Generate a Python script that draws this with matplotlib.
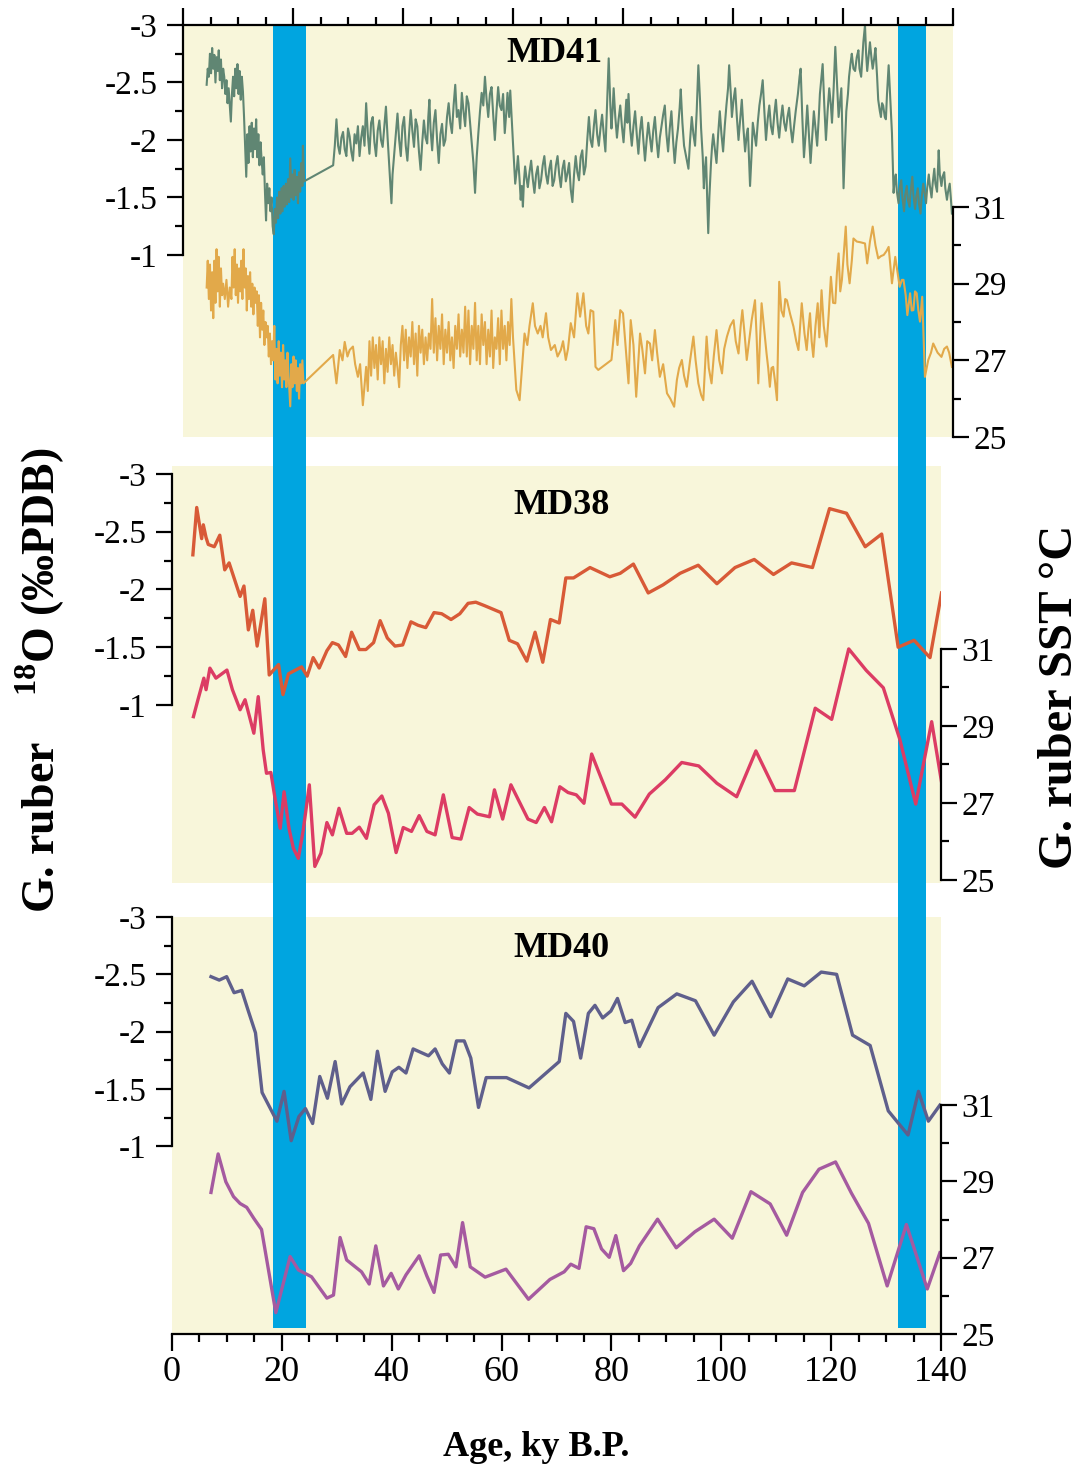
import numpy as np
import matplotlib
matplotlib.use('Agg')
import matplotlib.pyplot as plt
from matplotlib.patches import Rectangle
from matplotlib.ticker import FixedLocator, FixedFormatter

plt.rcParams['font.family'] = ['Liberation Serif', 'DejaVu Serif']
plt.rcParams['axes.unicode_minus'] = False
plt.rcParams['mathtext.fontset'] = 'custom'
plt.rcParams['mathtext.rm'] = 'Liberation Serif'
plt.rcParams['mathtext.bf'] = 'Liberation Serif:bold'

# shaded intervals (ky B.P.)
band_start = [18.4, 132.2]
band_end = [24.4, 137.2]

# MD41 G. ruber d18O (age, permil)
md41_d18o = [
    (4.3, -2.48), (4.5, -2.62), (4.7, -2.55), (4.9, -2.75), (5.1, -2.58), (5.3, -2.80), (5.5, -2.62),
    (5.7, -2.74), (5.9, -2.50), (6.1, -2.72), (6.3, -2.60), (6.5, -2.78), (6.7, -2.52), (6.9, -2.70),
    (7.1, -2.45), (7.3, -2.62), (7.5, -2.55), (7.7, -2.40), (7.9, -2.52), (8.1, -2.32), (8.3, -2.45),
    (8.5, -2.30), (8.7, -2.16), (8.9, -2.40), (9.1, -2.55), (9.3, -2.38), (9.5, -2.62), (9.7, -2.45),
    (9.9, -2.66), (10.1, -2.40), (10.3, -2.60), (10.5, -2.35), (10.7, -2.55), (10.9, -2.42), (11.1, -2.20),
    (11.3, -1.95), (11.5, -1.68), (11.7, -2.05), (11.9, -1.80), (12.1, -2.12), (12.3, -1.90), (12.5, -2.15),
    (12.7, -1.85), (12.9, -2.10), (13.1, -1.92), (13.3, -2.18), (13.5, -1.85), (13.7, -2.05), (13.9, -1.78),
    (14.1, -1.98), (14.3, -1.82), (14.5, -1.70), (14.7, -1.85), (14.9, -1.55), (15.1, -1.30), (15.3, -1.62),
    (15.5, -1.45), (15.7, -1.58), (15.9, -1.38), (16.1, -1.50), (16.3, -1.25), (16.5, -1.18),
    (16.7, -1.40), (16.9, -1.28), (17.1, -1.50), (17.3, -1.32), (17.5, -1.55), (17.7, -1.36), (17.9, -1.58),
    (18.1, -1.38), (18.3, -1.60), (18.5, -1.42), (18.7, -1.62), (18.9, -1.44), (19.1, -1.66), (19.3, -1.46),
    (19.5, -1.84), (19.7, -1.50), (19.9, -1.70), (20.1, -1.48), (20.3, -1.74), (20.5, -1.52), (20.7, -1.68),
    (20.9, -1.45), (21.1, -1.72), (21.3, -1.55), (21.5, -1.80), (21.7, -1.60), (21.8, -1.95), (22.0, -1.64),
    (27.3, -1.78), (27.6, -1.95), (27.9, -2.18), (28.2, -1.95), (28.5, -1.88), (28.8, -2.02), (29.1, -2.07),
    (29.4, -1.92), (29.7, -1.86), (30.0, -2.10), (30.3, -2.03), (30.6, -1.90), (30.9, -1.82), (31.2, -2.05),
    (31.5, -1.97), (31.8, -2.12), (32.1, -1.86), (32.4, -2.02), (32.7, -2.12), (33.0, -1.95), (33.3, -2.32),
    (33.6, -2.05), (33.9, -1.88), (34.2, -2.15), (34.5, -2.20), (34.8, -1.98), (35.1, -1.86), (35.4, -2.08),
    (35.7, -2.17), (36.0, -2.00), (36.3, -1.94), (36.6, -2.12), (36.9, -2.29), (37.2, -2.02), (37.5, -1.77),
    (37.7, -1.60), (37.9, -1.45), (38.1, -1.70), (38.4, -1.88), (38.7, -2.05), (39.0, -2.23), (39.3, -2.00),
    (39.6, -1.86), (39.9, -2.12), (40.2, -2.20), (40.5, -1.95), (40.8, -1.82), (41.1, -2.05), (41.4, -2.26),
    (41.7, -2.08), (42.0, -1.94), (42.3, -2.18), (42.6, -2.12), (42.9, -1.90), (43.2, -1.74), (43.5, -1.98),
    (43.8, -2.17), (44.1, -2.02), (44.4, -1.97), (44.6, -2.20), (44.8, -2.35), (45.0, -2.10), (45.3, -1.91),
    (45.6, -2.15), (45.9, -2.26), (46.2, -2.00), (46.5, -1.80), (46.8, -2.05), (47.1, -2.14), (47.4, -1.95),
    (47.7, -2.00), (48.0, -2.20), (48.3, -2.32), (48.6, -2.15), (48.9, -2.06), (49.2, -2.30), (49.5, -2.48),
    (49.8, -2.20), (50.1, -2.26), (50.4, -2.10), (50.7, -2.41), (51.0, -2.25), (51.3, -2.12), (51.6, -2.38),
    (51.9, -2.32), (52.2, -2.15), (52.5, -1.97), (52.8, -1.80), (53.1, -1.54), (53.4, -1.85), (53.7, -2.06),
    (54.0, -2.25), (54.3, -2.41), (54.6, -2.30), (54.9, -2.55), (55.2, -2.35), (55.5, -2.20), (55.8, -2.40),
    (56.1, -2.46), (56.4, -2.22), (56.7, -2.00), (57.0, -2.25), (57.3, -2.46), (57.6, -2.30), (57.9, -2.26),
    (58.2, -2.40), (58.5, -2.06), (58.8, -2.25), (59.0, -2.41), (59.3, -2.20), (59.5, -2.43), (59.8, -2.15),
    (60.0, -1.97), (60.2, -1.80), (60.4, -1.62), (60.7, -1.75), (60.9, -1.86), (61.2, -1.65), (61.4, -1.48),
    (61.6, -1.60), (61.8, -1.42), (62.0, -1.65), (62.2, -1.77), (62.5, -1.65), (62.7, -1.59), (63.0, -1.72),
    (63.3, -1.82), (63.6, -1.66), (63.9, -1.54), (64.2, -1.70), (64.5, -1.77), (64.8, -1.58), (65.1, -1.65),
    (65.4, -1.78), (65.7, -1.86), (66.0, -1.70), (66.3, -1.62), (66.6, -1.75), (66.9, -1.82), (67.2, -1.60),
    (67.5, -1.65), (67.8, -1.78), (68.1, -1.86), (68.4, -1.70), (68.7, -1.59), (69.0, -1.75), (69.3, -1.82),
    (69.6, -1.64), (69.9, -1.71), (70.2, -1.80), (70.5, -1.57), (70.8, -1.46), (71.1, -1.70), (71.4, -1.86),
    (71.7, -1.72), (72.0, -1.65), (72.3, -1.85), (72.6, -1.91), (72.9, -1.70), (73.2, -1.77), (73.5, -2.00),
    (73.8, -2.20), (74.1, -2.00), (74.4, -1.94), (74.7, -2.12), (75.0, -2.26),
    (75.3, -2.05), (75.6, -1.95), (75.9, -2.10), (76.2, -2.22), (76.5, -2.05), (76.8, -1.90), (77.1, -2.30),
    (77.4, -2.71), (77.7, -2.30), (77.9, -2.10), (78.1, -2.25), (78.3, -2.45), (78.6, -2.20), (78.9, -2.02),
    (79.2, -2.18), (79.5, -2.30), (79.8, -2.12), (80.1, -1.98), (80.4, -2.20), (80.6, -2.35), (80.8, -2.15),
    (81.0, -2.40), (81.3, -2.10), (81.6, -1.95), (81.9, -2.12), (82.2, -2.25), (82.5, -2.05), (82.8, -1.88),
    (83.1, -2.08), (83.4, -2.20), (83.7, -2.00), (84.0, -1.82), (84.3, -2.00), (84.6, -2.15), (84.9, -2.02),
    (85.2, -1.90), (85.5, -2.08), (85.8, -2.20), (86.1, -2.00), (86.4, -1.85), (86.7, -2.02), (87.0, -2.12),
    (87.3, -2.22), (87.6, -2.30), (87.9, -2.05), (88.2, -1.90), (88.5, -2.10), (88.8, -2.25), (89.1, -2.00),
    (89.4, -1.80), (89.7, -1.98), (90.0, -2.10), (90.3, -2.28), (90.5, -2.44), (90.8, -2.15), (91.1, -1.95),
    (91.5, -1.85), (91.9, -1.75), (92.2, -2.00), (92.5, -2.20), (92.8, -2.05), (93.1, -1.95), (93.4, -2.25),
    (93.7, -2.65), (94.0, -2.35), (94.2, -2.10), (94.5, -1.85), (94.7, -1.58), (94.9, -1.75), (95.1, -1.85),
    (95.3, -1.50), (95.5, -1.19), (95.7, -1.50), (96.0, -1.80), (96.2, -1.95), (96.4, -2.05), (96.7, -1.92),
    (97.0, -1.80), (97.3, -2.05), (97.6, -2.25), (97.9, -2.05), (98.2, -1.90), (98.5, -2.12), (98.8, -2.30),
    (99.1, -2.45), (99.3, -2.65), (99.6, -2.40), (99.8, -2.20), (100.1, -2.35), (100.4, -2.45), (100.7, -2.20),
    (101.0, -2.00), (101.3, -2.18), (101.6, -2.35), (101.9, -2.10), (102.2, -1.90), (102.5, -2.05), (102.7, -2.10),
    (102.9, -1.85), (103.1, -1.60), (103.4, -1.90), (103.6, -2.15), (103.9, -2.05), (104.2, -1.95), (104.5, -2.15),
    (104.8, -2.30), (105.1, -2.40), (105.4, -2.52), (105.7, -2.25), (106.0, -2.00), (106.3, -2.18), (106.6, -2.30),
    (106.9, -2.12), (107.2, -2.05), (107.5, -2.22), (107.8, -2.35), (108.1, -2.15), (108.4, -2.02), (108.7, -2.18),
    (109.0, -2.30), (109.3, -2.15), (109.6, -2.08), (109.9, -2.20), (110.2, -2.28), (110.5, -2.10), (110.8, -1.98),
    (111.1, -2.12), (111.4, -2.25), (111.8, -2.40), (112.1, -2.55), (112.3, -2.62), (112.6, -2.20), (112.9, -1.85),
    (113.2, -2.05), (113.5, -2.30), (113.8, -2.05), (114.1, -1.80), (114.4, -2.02), (114.7, -2.25), (115.0, -2.10),
    (115.3, -1.95), (115.6, -2.20), (115.8, -2.40), (116.1, -2.55), (116.3, -2.66), (116.6, -2.30), (116.9, -2.00),
    (117.2, -2.25), (117.5, -2.45), (117.8, -2.30), (118.0, -2.15), (118.3, -2.45), (118.6, -2.81), (118.9, -2.50),
    (119.2, -2.20), (119.5, -2.35), (119.7, -2.45), (119.9, -2.00), (120.1, -1.58), (120.4, -2.00), (120.6, -2.25),
    (120.9, -2.40), (121.1, -2.55), (121.4, -2.68), (121.6, -2.75), (121.9, -2.62), (122.2, -2.60), (122.5, -2.72),
    (122.8, -2.78), (123.0, -2.62), (123.3, -2.55), (123.5, -2.70), (123.7, -2.85), (124.0, -3.00), (124.2, -2.75),
    (124.4, -2.60), (124.7, -2.75), (124.9, -2.85), (125.2, -2.70), (125.4, -2.62), (125.7, -2.72), (125.9, -2.80),
    (126.2, -2.55), (126.4, -2.35), (126.7, -2.25), (126.9, -2.20), (127.1, -2.32), (127.3, -2.30), (127.6, -2.20),
    (127.8, -2.18), (128.0, -2.40), (128.3, -2.65), (128.6, -2.35), (128.9, -2.06), (129.2, -1.54), (129.4, -1.65),
    (129.6, -1.70), (129.8, -1.55), (130.1, -1.45), (130.3, -1.58), (130.6, -1.65), (130.8, -1.50), (131.1, -1.38),
    (131.3, -1.52), (131.6, -1.60), (131.8, -1.48), (132.1, -1.42), (132.3, -1.55), (132.6, -1.68), (132.8, -1.52),
    (133.1, -1.40), (133.3, -1.50), (133.6, -1.58), (133.8, -1.45), (134.1, -1.36), (134.3, -1.50), (134.6, -1.62),
    (134.8, -1.55), (135.1, -1.45), (135.3, -1.58), (135.6, -1.70), (135.8, -1.60), (136.1, -1.50), (136.3, -1.62),
    (136.6, -1.75), (136.8, -1.62), (137.1, -1.55), (137.4, -1.91), (137.6, -1.70), (137.9, -1.60), (138.1, -1.68),
    (138.4, -1.72), (138.6, -1.58), (138.9, -1.48), (139.1, -1.55), (139.4, -1.62), (139.6, -1.50), (139.8, -1.36),
]

# MD41 G. ruber SST (age, degC)
md41_sst = [
    (4.3, 28.9), (4.5, 29.6), (4.7, 28.6), (4.9, 29.5), (5.1, 28.3), (5.3, 29.3), (5.5, 28.1), (5.7, 29.6),
    (5.9, 28.5), (6.1, 29.9), (6.3, 28.8), (6.5, 29.7), (6.7, 28.4), (6.9, 29.4), (7.1, 28.7), (7.3, 29.0),
    (7.6, 28.6), (7.9, 29.1), (8.2, 28.4), (8.5, 28.9), (8.8, 28.6), (9.0, 29.7), (9.2, 28.9), (9.4, 29.9),
    (9.6, 28.7), (9.8, 29.5), (10.0, 28.5), (10.2, 29.4), (10.4, 28.8), (10.6, 29.6), (10.8, 28.6), (11.0, 29.9),
    (11.2, 28.9), (11.4, 29.4), (11.6, 28.3), (11.8, 29.2), (12.0, 28.6), (12.2, 29.3), (12.4, 28.4), (12.6, 29.0),
    (12.8, 28.2), (13.0, 28.9), (13.2, 28.5), (13.4, 28.8), (13.6, 27.9), (13.8, 28.7), (14.0, 27.6), (14.2, 28.5),
    (14.4, 27.8), (14.6, 28.3), (14.8, 27.4), (15.0, 28.0), (15.2, 27.6), (15.4, 27.9), (15.6, 27.1), (15.8, 27.7),
    (16.0, 26.9), (16.2, 27.5), (16.4, 27.0), (16.6, 27.9), (16.8, 26.5), (17.0, 27.3), (17.2, 26.4), (17.4, 27.5),
    (17.6, 26.6), (17.8, 27.2), (18.0, 26.3), (18.2, 27.4), (18.4, 26.5), (18.6, 27.0), (18.8, 26.3), (19.0, 27.2),
    (19.2, 26.6), (19.5, 25.8), (19.7, 26.9), (19.9, 26.3), (20.1, 27.1), (20.3, 26.4), (20.5, 27.0), (20.7, 26.2),
    (20.9, 26.8), (21.1, 26.0), (21.3, 26.9), (21.5, 26.4), (21.7, 27.0), (21.9, 26.4),
    (27.3, 27.14), (27.9, 26.40), (28.5, 27.27), (29.0, 27.0), (29.4, 27.48), (29.9, 27.1), (30.3, 27.27),
    (30.9, 27.36), (31.3, 26.9), (31.8, 26.57), (32.2, 26.9), (32.7, 25.83), (33.3, 26.83), (33.6, 26.2),
    (33.9, 27.5), (34.2, 26.6), (34.5, 27.6), (34.8, 26.8), (35.1, 27.4), (35.4, 26.5), (35.7, 27.6), (36.0, 26.9),
    (36.3, 27.5), (36.6, 26.4), (36.9, 27.3), (37.2, 26.7), (37.5, 27.6), (37.8, 26.9), (38.1, 27.4), (38.4, 26.6),
    (38.7, 27.2), (39.0, 26.8), (39.3, 26.3), (39.6, 27.4), (39.9, 27.9), (40.2, 27.0), (40.5, 27.8), (40.8, 26.8),
    (41.1, 27.6), (41.4, 27.1), (41.7, 28.0), (42.0, 26.9), (42.3, 27.7), (42.6, 26.6), (42.9, 27.9), (43.2, 27.2),
    (43.5, 27.8), (43.8, 26.9), (44.1, 27.6), (44.4, 27.0), (44.7, 27.7), (45.0, 27.3), (45.3, 28.6), (45.6, 27.2),
    (45.9, 28.1), (46.2, 27.0), (46.5, 27.9), (46.8, 27.3), (47.1, 28.2), (47.4, 26.9), (47.7, 27.8), (48.0, 27.2),
    (48.3, 28.0), (48.6, 27.0), (48.9, 27.6), (49.2, 26.8), (49.5, 27.9), (49.8, 27.3), (50.1, 28.2), (50.4, 27.1),
    (50.7, 27.8), (51.0, 27.2), (51.3, 28.4), (51.6, 27.1), (51.9, 28.3), (52.2, 26.9), (52.5, 27.9), (52.8, 27.3),
    (53.1, 28.5), (53.4, 27.0), (53.7, 27.9), (54.0, 26.9), (54.3, 28.2), (54.6, 27.4), (54.9, 28.0), (55.2, 26.9),
    (55.5, 27.8), (55.8, 27.1), (56.1, 28.3), (56.4, 26.8), (56.7, 27.6), (57.0, 27.3), (57.3, 28.1), (57.6, 26.9),
    (57.9, 28.3), (58.2, 27.3), (58.5, 27.9), (58.8, 27.0), (59.1, 28.0), (59.4, 27.4), (59.7, 28.6), (60.0, 27.6),
    (60.6, 26.23), (61.2, 25.96), (62.1, 27.70), (62.6, 27.4), (63.0, 27.9), (63.6, 28.49), (64.0, 27.9),
    (64.5, 27.70), (65.0, 27.9), (65.4, 27.6), (66.0, 28.23), (66.4, 27.6), (66.9, 27.27), (67.6, 27.4),
    (68.1, 27.1), (68.7, 27.27), (69.1, 27.5), (69.6, 27.01), (70.0, 27.3), (70.5, 27.97), (71.1, 27.6),
    (71.7, 28.75), (72.2, 28.14), (72.8, 28.75), (73.3, 27.9), (73.7, 27.70), (74.1, 28.31), (74.6, 28.27),
    (75.0, 26.83), (75.5, 26.75), (77.9, 27.01), (78.6, 28.05), (79.0, 27.4), (79.5, 28.31), (80.0, 28.23),
    (80.5, 27.3), (81.0, 26.40), (81.4, 28.05), (81.9, 27.4), (82.4, 26.05), (83.1, 27.70), (83.5, 27.3),
    (84.0, 26.66), (84.4, 27.5), (84.9, 27.44), (85.3, 27.0), (85.8, 27.79), (86.2, 27.2), (86.7, 26.57),
    (87.3, 26.9), (88.0, 26.14), (88.6, 26.0), (89.3, 25.79), (89.8, 26.49), (90.2, 26.8), (90.7, 27.01),
    (91.1, 26.6), (91.6, 26.31), (92.2, 27.0), (92.8, 27.62), (93.2, 27.0), (93.7, 26.40), (94.2, 26.1),
    (94.6, 25.96), (95.2, 27.62), (95.6, 26.8), (96.1, 26.40), (96.5, 27.1), (97.0, 27.79), (97.5, 27.0),
    (98.0, 26.66), (98.4, 27.3), (98.9, 27.62), (99.5, 27.9), (100.1, 28.05), (100.5, 27.5), (101.0, 27.18),
    (101.4, 27.9), (101.7, 28.31), (102.1, 27.7), (102.5, 27.01), (103.0, 27.6), (103.4, 28.05), (104.0, 28.57),
    (104.3, 27.6), (104.6, 26.40), (104.9, 27.5), (105.2, 28.49), (105.6, 27.9), (106.1, 27.18), (106.4, 26.8),
    (106.7, 26.31), (107.0, 26.8), (107.3, 26.83), (107.6, 26.5), (108.0, 25.96), (108.4, 29.05), (108.8, 28.3),
    (109.2, 28.14), (109.5, 28.6), (109.8, 28.57), (110.4, 28.2), (111.0, 27.88), (111.5, 27.5), (111.9, 27.27),
    (112.2, 27.9), (112.5, 28.49), (113.0, 27.7), (113.4, 27.27), (113.7, 27.8), (114.0, 28.23), (114.3, 27.5),
    (114.6, 27.09), (115.0, 27.9), (115.4, 28.49), (115.7, 27.6), (116.1, 28.83), (116.5, 27.9), (117.0, 27.36),
    (117.4, 28.2), (117.8, 29.18), (118.2, 28.5), (118.6, 28.49), (118.9, 29.3), (119.2, 29.79), (119.5, 28.8),
    (119.8, 29.10), (120.2, 29.9), (120.5, 30.49), (120.8, 29.5), (121.2, 29.01), (121.6, 29.6), (121.9, 30.18),
    (122.5, 30.10), (123.2, 30.08), (124.0, 30.05), (124.4, 29.53), (124.9, 30.1), (125.4, 30.49), (125.9, 30.0),
    (126.4, 29.66), (126.9, 29.72), (127.4, 29.75), (127.9, 29.85), (128.3, 29.96), (128.9, 29.01), (129.5, 29.70),
    (129.9, 29.3), (130.3, 28.92), (130.7, 29.1), (131.0, 29.10), (131.4, 28.7), (131.7, 28.18), (132.2, 28.75),
    (132.5, 28.3), (132.8, 28.31), (133.1, 28.8), (133.4, 28.75), (133.7, 28.3), (134.0, 28.01), (134.4, 28.66),
    (134.9, 26.57), (135.5, 27.01), (136.0, 27.2), (136.4, 27.44), (137.2, 27.2), (137.9, 27.09), (138.4, 27.3),
    (138.9, 27.36), (139.3, 27.2), (139.8, 26.83),
]

# MD38 G. ruber d18O
md38_d18o = [
    (3.8, -2.30), (4.5, -2.71), (5.4, -2.44), (5.7, -2.56), (6.2, -2.45), (6.6, -2.39), (7.7, -2.37),
    (8.7, -2.47), (9.6, -2.17), (10.4, -2.23), (12.4, -1.94), (13.1, -2.03), (13.9, -1.65), (14.7, -1.82),
    (15.5, -1.51), (16.9, -1.92), (17.7, -1.26), (19.4, -1.35), (20.2, -1.09), (21.2, -1.27), (23.6, -1.33),
    (24.6, -1.25), (25.7, -1.41), (26.8, -1.32), (28.2, -1.47), (29.2, -1.54), (30.3, -1.52), (31.6, -1.42),
    (32.7, -1.63), (34.1, -1.48), (35.3, -1.48), (36.7, -1.54), (37.9, -1.73), (39.2, -1.58), (40.6, -1.51),
    (42.0, -1.52), (43.5, -1.72), (44.8, -1.69), (46.2, -1.67), (47.7, -1.80), (49.1, -1.79), (50.8, -1.74),
    (52.4, -1.79), (53.9, -1.88), (55.3, -1.89), (56.9, -1.86), (59.9, -1.80), (61.4, -1.56), (62.9, -1.53),
    (64.6, -1.38), (66.1, -1.63), (67.5, -1.37), (68.9, -1.74), (70.5, -1.71), (71.7, -2.10), (73.1, -2.10),
    (76.1, -2.19), (79.7, -2.11), (81.6, -2.14), (84.0, -2.22), (86.7, -1.97), (89.4, -2.04), (92.5, -2.14),
    (95.8, -2.21), (99.2, -2.05), (102.5, -2.19), (106.0, -2.26), (109.5, -2.13), (112.8, -2.23), (116.6, -2.19),
    (119.7, -2.70), (122.8, -2.66), (126.2, -2.37), (129.2, -2.48), (132.2, -1.50), (135.1, -1.56),
    (138.0, -1.41), (140.1, -1.97),
]

# MD38 G. ruber SST
md38_sst = [
    (3.9, 29.24), (4.8, 29.72), (5.8, 30.24), (6.2, 29.94), (6.9, 30.50), (8.0, 30.24), (10.0, 30.45),
    (11.0, 29.94), (12.4, 29.42), (13.3, 29.68), (14.9, 28.81), (15.7, 29.76), (16.6, 28.38), (17.2, 27.77),
    (18.0, 27.79), (18.8, 27.08), (19.7, 26.34), (20.4, 27.29), (21.3, 26.34), (22.1, 25.82), (23.0, 25.56),
    (23.9, 26.30), (25.0, 27.47), (26.0, 25.35), (27.1, 25.69), (28.2, 26.49), (29.2, 26.17), (30.4, 26.86),
    (31.8, 26.21), (32.8, 26.21), (34.1, 26.37), (35.4, 26.08), (36.8, 26.95), (38.2, 27.18), (39.4, 26.73),
    (40.8, 25.71), (42.1, 26.36), (43.6, 26.26), (45.0, 26.67), (46.4, 26.26), (47.9, 26.17), (49.4, 27.21),
    (51.0, 26.10), (52.6, 26.06), (54.1, 26.88), (55.6, 26.71), (57.8, 26.64), (58.7, 27.34), (60.2, 26.58),
    (61.7, 27.47), (64.8, 26.58), (66.3, 26.49), (67.8, 26.88), (69.1, 26.51), (70.6, 27.42), (72.1, 27.27),
    (73.6, 27.21), (75.0, 26.99), (76.4, 28.27), (80.0, 26.97), (81.9, 26.97), (84.3, 26.63), (86.9, 27.23),
    (89.8, 27.60), (92.8, 28.05), (95.9, 27.96), (99.2, 27.51), (102.8, 27.16), (106.3, 28.35), (109.8, 27.32),
    (113.3, 27.32), (117.1, 29.46), (120.1, 29.17), (123.2, 31.00), (126.4, 30.44), (129.5, 29.99),
    (132.5, 28.65), (135.4, 26.97), (138.3, 29.11), (140.4, 27.28),
]

# MD40 G. ruber d18O
md40_d18o = [
    (7.1, -2.48), (8.6, -2.45), (9.95, -2.48), (11.3, -2.34), (12.7, -2.36), (13.9, -2.18), (15.2, -1.99),
    (16.4, -1.47), (19.1, -1.22), (20.4, -1.48), (21.7, -1.05), (23.1, -1.26), (24.3, -1.33), (25.6, -1.20),
    (26.9, -1.61), (28.3, -1.42), (29.7, -1.74), (30.9, -1.37), (32.4, -1.52), (34.8, -1.64), (36.2, -1.41),
    (37.4, -1.83), (38.8, -1.48), (40.1, -1.65), (41.3, -1.69), (42.6, -1.64), (43.9, -1.85), (46.7, -1.79),
    (47.9, -1.85), (49.2, -1.72), (50.5, -1.64), (51.8, -1.92), (53.2, -1.92), (54.4, -1.77), (55.8, -1.34),
    (57.2, -1.60), (60.9, -1.60), (65.0, -1.51), (70.5, -1.74), (71.7, -2.16), (73.1, -2.09), (74.4, -1.77),
    (75.8, -2.16), (77.0, -2.23), (78.4, -2.12), (79.9, -2.18), (81.1, -2.29), (82.5, -2.08), (83.7, -2.10),
    (85.1, -1.87), (88.5, -2.21), (91.9, -2.33), (95.3, -2.27), (98.7, -1.97), (102.2, -2.26), (105.6, -2.44),
    (109.0, -2.13), (112.1, -2.46), (115.1, -2.40), (118.2, -2.52), (121.0, -2.50), (123.9, -1.97),
    (127.1, -1.88), (130.4, -1.31), (134.0, -1.10), (135.9, -1.48), (137.7, -1.22), (139.8, -1.36),
]

# MD40 G. ruber SST
md40_sst = [
    (7.1, 28.71), (8.4, 29.72), (9.8, 28.99), (11.2, 28.60), (12.4, 28.42), (13.6, 28.32), (14.9, 28.03),
    (16.3, 27.74), (18.9, 25.56), (21.5, 27.03), (23.0, 26.68), (25.4, 26.50), (28.2, 25.94), (29.4, 26.02),
    (30.6, 27.53), (31.8, 26.94), (34.5, 26.63), (35.9, 26.31), (37.1, 27.31), (38.5, 26.26), (39.9, 26.59),
    (41.2, 26.18), (42.6, 26.55), (45.0, 27.05), (46.4, 26.52), (47.7, 26.09), (48.9, 27.07), (50.3, 27.09),
    (51.7, 26.76), (52.9, 27.92), (54.3, 26.76), (57.0, 26.49), (60.8, 26.70), (64.9, 25.91), (68.8, 26.43),
    (71.4, 26.63), (72.6, 26.83), (74.1, 26.72), (75.4, 27.81), (76.8, 27.76), (78.2, 27.23), (79.6, 27.01),
    (80.8, 27.58), (82.2, 26.66), (83.5, 26.85), (85.1, 27.31), (88.4, 28.01), (91.8, 27.26), (95.2, 27.68),
    (98.7, 28.01), (102.0, 27.51), (105.4, 28.73), (108.9, 28.41), (111.9, 27.59), (114.8, 28.71),
    (117.8, 29.32), (120.8, 29.51), (123.7, 28.69), (126.8, 27.90), (130.2, 26.26), (133.7, 27.87),
    (137.5, 26.18), (139.8, 27.13),
]

d18o_ticks = [-3, -2.5, -2, -1.5, -1]
d18o_labels = ['-3', '-2.5', '-2', '-1.5', '-1']
sst_ticks = [25, 27, 29, 31]
age_ticks = [0, 20, 40, 60, 80, 100, 120, 140]

YELLOW = '#f8f6da'
BLUE = '#00a5e0'

W, H = 1084, 1470
fig = plt.figure(figsize=(W / 100, H / 100), dpi=100)


def rect(x0, y0, x1, y1):
    # pixel box (from top-left) -> figure fraction
    return [x0 / W, 1 - y1 / H, (x1 - x0) / W, (y1 - y0) / H]


def make_panel(box, d18o_lim, sst_lim, name, name_pos):
    ax = fig.add_axes(rect(*box))
    ax.set_facecolor('none')
    fig.add_artist(Rectangle((0, 0), 1, 1, transform=ax.transAxes,
                             facecolor=YELLOW, edgecolor='none', zorder=-3))
    ax.set_xlim(0, 140)
    ax.set_ylim(*d18o_lim)
    ax2 = ax.twinx()
    ax2.set_ylim(*sst_lim)

    for s in ['top', 'bottom', 'right']:
        ax.spines[s].set_visible(False)
    ax.spines['left'].set_bounds(-3, -1)
    ax.spines['left'].set_linewidth(1.6)
    for s in ['top', 'bottom', 'left']:
        ax2.spines[s].set_visible(False)
    ax2.spines['right'].set_bounds(25, 31)
    ax2.spines['right'].set_linewidth(1.6)

    ax.yaxis.set_major_locator(FixedLocator(d18o_ticks))
    ax.yaxis.set_major_formatter(FixedFormatter(d18o_labels))
    ax.yaxis.set_minor_locator(FixedLocator([-2.75, -2.25, -1.75, -1.25]))
    ax.tick_params(axis='y', which='major', length=11.5, width=1.6, labelsize=24, pad=7)
    ax.tick_params(axis='y', which='minor', length=5.5, width=1.6)

    ax2.yaxis.set_major_locator(FixedLocator(sst_ticks))
    ax2.yaxis.set_minor_locator(FixedLocator([26, 28, 30]))
    ax2.tick_params(axis='y', which='major', length=11.5, width=1.6, labelsize=24, pad=3)
    ax2.tick_params(axis='y', which='minor', length=5.5, width=1.6)

    ax.xaxis.set_major_locator(FixedLocator(age_ticks))
    ax.xaxis.set_minor_locator(FixedLocator(np.arange(0, 141, 5)))
    ax.tick_params(axis='x', which='major', length=12, width=1.6, labelsize=26, pad=4)
    ax.tick_params(axis='x', which='minor', length=6, width=1.6)

    ax.text(name_pos[0], name_pos[1], name, transform=ax.transAxes, ha='center', va='center',
            fontsize=26, fontweight='bold')
    return ax, ax2


# shaded bands span all three panels
bg = fig.add_axes(rect(172, 25, 941, 1328))
bg.set_zorder(-2)
bg.set_xlim(0, 140)
bg.set_ylim(0, 1)
bg.axis('off')
for s, e in zip(band_start, band_end):
    bg.axvspan(s, e, color=BLUE, lw=0)

# MD41
ax, ax2 = make_panel((183, 25, 953, 437), (0.583, -3), (25, 35.75), 'MD41', (0.483, 0.932))
ax.xaxis.tick_top()
ax.spines['top'].set_visible(True)
ax.spines['top'].set_linewidth(1.6)
ax.tick_params(axis='x', which='both', labeltop=False)
a, v = zip(*md41_d18o)
ax.plot(a, v, color='#608673', lw=1.5)
a, v = zip(*md41_sst)
ax2.plot(a, v, color='#e2a94a', lw=1.5)

# MD38
ax, ax2 = make_panel((172, 466, 941, 883), (0.541, -3.069), (24.92, 35.75), 'MD38', (0.507, 0.905))
ax.tick_params(axis='x', which='both', bottom=False, labelbottom=False)
a, v = zip(*md38_d18o)
ax.plot(a, v, color='#d85a37', lw=2.4)
a, v = zip(*md38_sst)
ax2.plot(a, v, color='#dc3c64', lw=2.4)

# MD40
ax, ax2 = make_panel((172, 917, 941, 1334), (0.635, -3.0), (25, 35.93), 'MD40', (0.507, 0.925))
ax.spines['bottom'].set_visible(True)
ax.spines['bottom'].set_linewidth(1.6)
a, v = zip(*md40_d18o)
ax.plot(a, v, color='#5f5f8c', lw=2.4)
a, v = zip(*md40_sst)
ax2.plot(a, v, color='#a55aa0', lw=2.4)

fig.text(40 / W, 1 - 680 / H, 'G. ruber    $^{\\mathbf{18}}$O (\u2030PDB)', rotation=90,
         ha='center', va='center', fontsize=33, fontweight='bold')
fig.text(1060 / W, 1 - 697 / H, 'G. ruber SST \u00b0C', rotation=90,
         ha='center', va='center', fontsize=35, fontweight='bold')
fig.text(536 / W, 1 - 1447 / H, 'Age, ky B.P.', ha='center', va='center',
         fontsize=26, fontweight='bold')

fig.savefig('out.png', dpi=100)
